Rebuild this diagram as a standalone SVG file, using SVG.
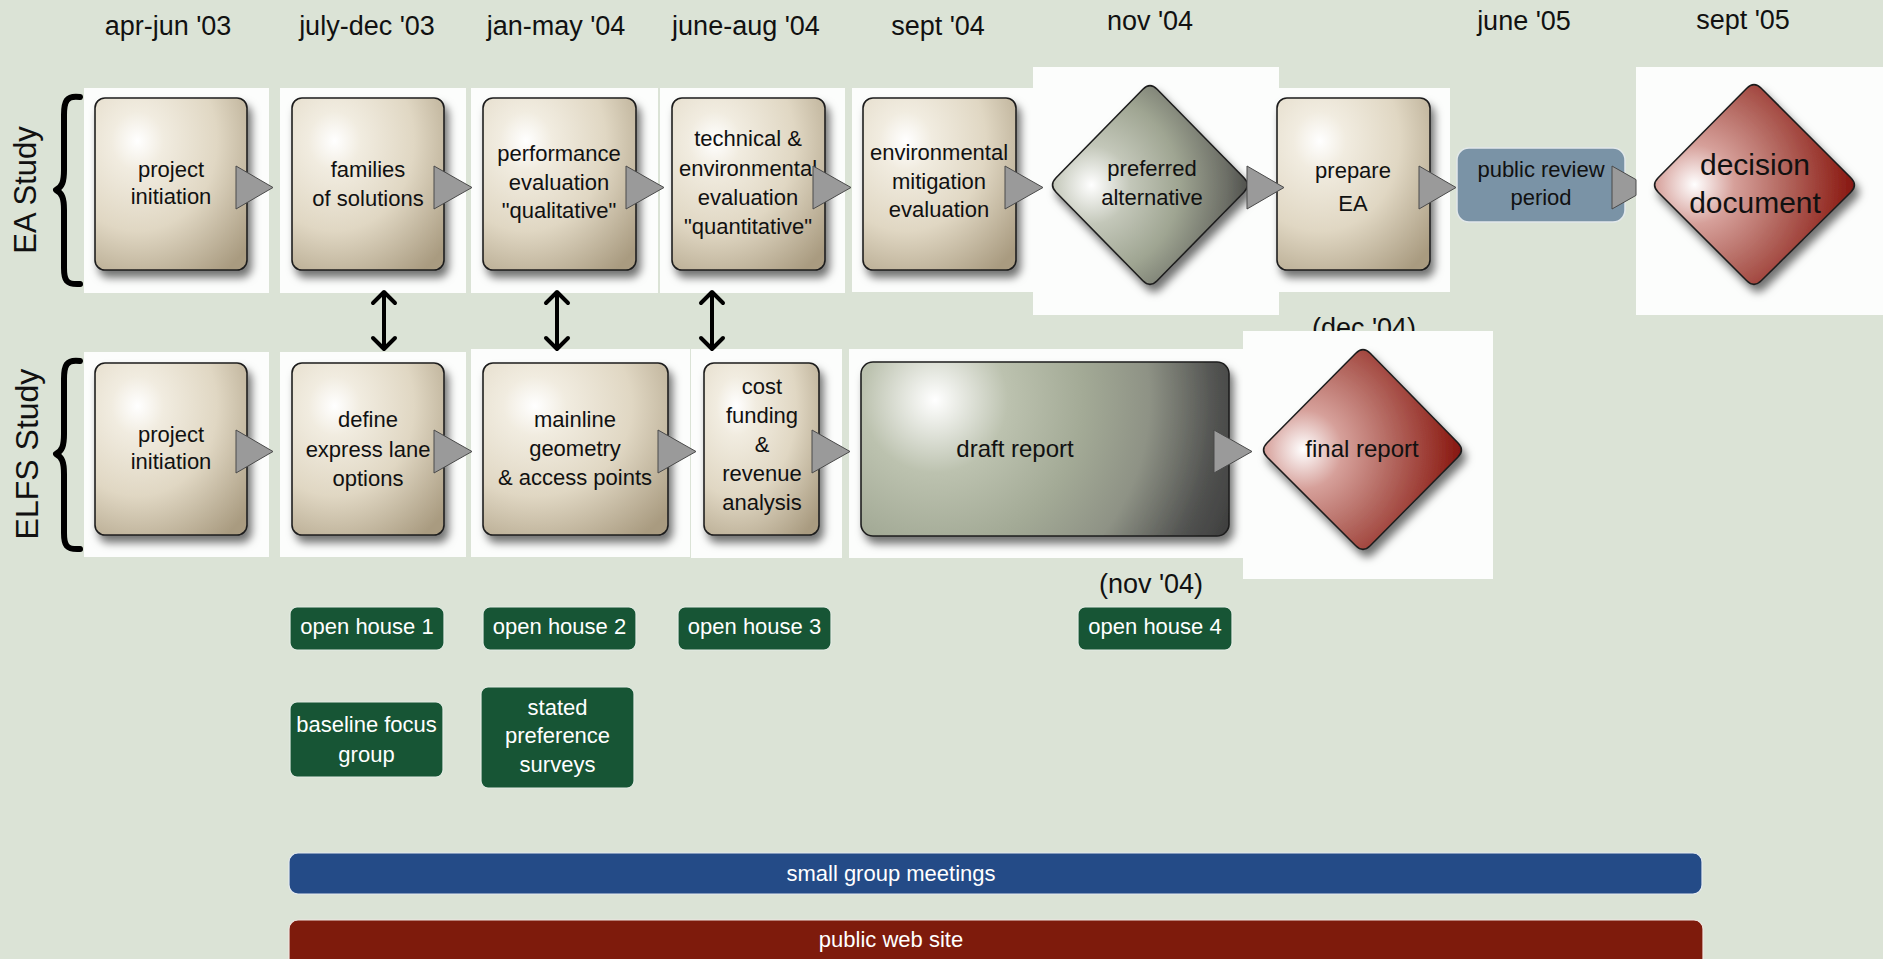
<svg xmlns="http://www.w3.org/2000/svg" width="1883" height="959" viewBox="0 0 1883 959">
<defs>
<style>
text{font-family:"Liberation Sans",Arial,sans-serif;fill:#111}
.t{font-size:27px}
.b{font-size:22px;text-anchor:middle}
.w{fill:#fff}
.panel{fill:#fcfdfc}
.box{fill:url(#beige);stroke:#1e1e1e;stroke-width:1.6;filter:url(#sh)}
.tri{fill:#9a9a9a;stroke:#4a4a4a;stroke-width:1}
.grn{fill:#175535;stroke:#e3ebe3;stroke-width:1.2}
.bi{fill:none;stroke:#000;stroke-width:4;stroke-linecap:round;stroke-linejoin:round}
.brace{fill:none;stroke:#000;stroke-width:6;stroke-linecap:round;stroke-linejoin:round}
</style>
<filter id="sh" x="-15%" y="-15%" width="140%" height="140%">
<feDropShadow dx="4" dy="7" stdDeviation="4" flood-color="#000" flood-opacity="0.55"/>
</filter>
<radialGradient id="beige" cx="0.28" cy="0.25" r="0.95" fx="0.28" fy="0.25">
<stop offset="0" stop-color="#ffffff"/>
<stop offset="0.18" stop-color="#f1ece0"/>
<stop offset="0.55" stop-color="#e0d7c3"/>
<stop offset="1" stop-color="#a99b80"/>
</radialGradient>
<radialGradient id="gray" cx="0.2" cy="0.5" r="0.9" fx="0.2" fy="0.5">
<stop offset="0" stop-color="#ffffff"/>
<stop offset="0.22" stop-color="#c3c7b9"/>
<stop offset="0.5" stop-color="#9fa592"/>
<stop offset="0.78" stop-color="#6b6d65"/>
<stop offset="1" stop-color="#363636"/>
</radialGradient>
<radialGradient id="draft" gradientUnits="userSpaceOnUse" cx="935" cy="400" r="330" fx="935" fy="400">
<stop offset="0" stop-color="#ffffff"/>
<stop offset="0.22" stop-color="#bcc2af"/>
<stop offset="0.45" stop-color="#a3aa96"/>
<stop offset="0.65" stop-color="#8e9285"/>
<stop offset="0.85" stop-color="#525351"/>
<stop offset="1" stop-color="#3a3a3a"/>
</radialGradient>
<radialGradient id="red" cx="0.2" cy="0.5" r="0.9" fx="0.2" fy="0.5">
<stop offset="0" stop-color="#ffffff"/>
<stop offset="0.22" stop-color="#d6a09a"/>
<stop offset="0.5" stop-color="#b3675f"/>
<stop offset="0.8" stop-color="#922820"/>
<stop offset="1" stop-color="#760000"/>
</radialGradient>
<clipPath id="decclip"><rect x="1280" y="300" width="200" height="31"/></clipPath>
</defs>

<rect width="1883" height="959" fill="#dbe3d6"/>

<g id="titles">
<text class="t" x="168" y="35" text-anchor="middle">apr-jun '03</text>
<text class="t" x="367" y="35" text-anchor="middle">july-dec '03</text>
<text class="t" x="556" y="35" text-anchor="middle">jan-may '04</text>
<text class="t" x="746" y="35" text-anchor="middle">june-aug '04</text>
<text class="t" x="938" y="35" text-anchor="middle">sept '04</text>
<text class="t" x="1150" y="30" text-anchor="middle">nov '04</text>
<text class="t" x="1524" y="30" text-anchor="middle">june '05</text>
<text class="t" x="1743" y="29" text-anchor="middle">sept '05</text>
</g>

<g id="lane-labels">
<text transform="translate(36,190) rotate(-90)" text-anchor="middle" font-size="31">EA Study</text>
<path class="brace" d="M80,97 C66,95 64,102 64,115 L64,170 C64,182 62,187 56,190 C62,193 64,198 64,210 L64,268 C64,280 66,285 80,284"/>
<text transform="translate(38,454) rotate(-90)" text-anchor="middle" font-size="32">ELFS Study</text>
<path class="brace" d="M80,361 C66,359 64,366 64,379 L64,434 C64,446 62,451 56,454 C62,457 64,462 64,474 L64,533 C64,545 66,550 80,549"/>
</g>

<text class="t" x="1364" y="337" text-anchor="middle" clip-path="url(#decclip)">(dec '04)</text>

<g id="ea-project-initiation">
<rect class="panel" x="84" y="88" width="185" height="205"/>
<rect class="box" x="95" y="98" width="152" height="172" rx="10"/>
<text class="b" x="171" y="177">project</text>
<text class="b" x="171" y="204">initiation</text>
</g>
<g id="ea-families">
<rect class="panel" x="280" y="88" width="186" height="205"/>
<rect class="box" x="292" y="98" width="152" height="172" rx="10"/>
<text class="b" x="368" y="177">families</text>
<text class="b" x="368" y="206">of solutions</text>
</g>
<g id="ea-performance">
<rect class="panel" x="471" y="88" width="187" height="205"/>
<rect class="box" x="483" y="98" width="153" height="172" rx="10"/>
<text class="b" x="559" y="161">performance</text>
<text class="b" x="559" y="190">evaluation</text>
<text class="b" x="559" y="218">"qualitative"</text>
</g>
<g id="ea-technical">
<rect class="panel" x="660" y="88" width="185" height="205"/>
<rect class="box" x="672" y="98" width="153" height="172" rx="10"/>
<text class="b" x="748" y="146">technical &amp;</text>
<text class="b" x="748" y="176">environmental</text>
<text class="b" x="748" y="205">evaluation</text>
<text class="b" x="748" y="234">"quantitative"</text>
</g>
<g id="ea-mitigation">
<rect class="panel" x="852" y="88" width="181" height="204"/>
<rect class="box" x="863" y="98" width="153" height="172" rx="10"/>
<text class="b" x="939" y="160">environmental</text>
<text class="b" x="939" y="189">mitigation</text>
<text class="b" x="939" y="217">evaluation</text>
</g>
<g id="ea-preferred">
<rect class="panel" x="1033" y="67" width="246" height="248"/>
<path d="M1142.9,89.2 Q1150,82 1157.1,89.2 L1243.9,177.8 Q1251,185 1243.9,192.2 L1157.1,280.8 Q1150,288 1142.9,280.8 L1056.1,192.2 Q1049,185 1056.1,177.8 Z" fill="url(#gray)" stroke="#1e1e1e" stroke-width="1.6" filter="url(#sh)"/>
<text class="b" x="1152" y="176">preferred</text>
<text class="b" x="1152" y="205">alternative</text>
</g>
<g id="ea-prepare">
<rect class="panel" x="1279" y="88" width="171" height="204"/>
<rect class="box" x="1277" y="98" width="153" height="172" rx="10"/>
<text class="b" x="1353" y="178">prepare</text>
<text class="b" x="1353" y="211" font-size="29">EA</text>
</g>
<g id="ea-public-review">
<rect x="1457" y="148" width="168" height="74" rx="12" fill="#7a93a6" stroke="#e2e8ea" stroke-width="1.5"/>
<text class="b" x="1541" y="177">public review</text>
<text class="b" x="1541" y="205">period</text>
</g>
<g id="ea-decision">
<rect class="panel" x="1636" y="67" width="247" height="248"/>
<path d="M1746.8,88.2 Q1754,81 1761.2,88.2 L1850.8,177.8 Q1858,185 1850.8,192.2 L1761.2,280.8 Q1754,288 1746.8,280.8 L1658.2,192.2 Q1651,185 1658.2,177.8 Z" fill="url(#red)" stroke="#1e1e1e" stroke-width="1.6" filter="url(#sh)"/>
<text x="1755" y="175" font-size="30" text-anchor="middle">decision</text>
<text x="1755" y="213" font-size="30" text-anchor="middle">document</text>
</g>

<g id="elfs-project-initiation">
<rect class="panel" x="84" y="352" width="185" height="205"/>
<rect class="box" x="95" y="363" width="152" height="172" rx="10"/>
<text class="b" x="171" y="442">project</text>
<text class="b" x="171" y="469">initiation</text>
</g>
<g id="elfs-define">
<rect class="panel" x="280" y="352" width="186" height="205"/>
<rect class="box" x="292" y="363" width="152" height="172" rx="10"/>
<text class="b" x="368" y="427">define</text>
<text class="b" x="368" y="457">express lane</text>
<text class="b" x="368" y="486">options</text>
</g>
<g id="elfs-mainline">
<rect class="panel" x="471" y="349" width="219" height="208"/>
<rect class="box" x="483" y="363" width="185" height="172" rx="10"/>
<text class="b" x="575" y="427">mainline</text>
<text class="b" x="575" y="456">geometry</text>
<text class="b" x="575" y="485">&amp; access points</text>
</g>
<g id="elfs-cost">
<rect class="panel" x="691" y="349" width="151" height="209"/>
<rect class="box" x="704" y="363" width="115" height="172" rx="10"/>
<text class="b" x="762" y="394">cost</text>
<text class="b" x="762" y="423">funding</text>
<text class="b" x="762" y="452">&amp;</text>
<text class="b" x="762" y="481">revenue</text>
<text class="b" x="762" y="510">analysis</text>
</g>
<g id="elfs-draft">
<rect class="panel" x="849" y="349" width="396" height="209"/>
<rect x="861" y="362" width="368" height="174" rx="12" fill="url(#draft)" stroke="#1e1e1e" stroke-width="1.6" filter="url(#sh)"/>
<text x="1015" y="457" font-size="24" text-anchor="middle">draft report</text>
</g>
<g id="elfs-final">
<rect class="panel" x="1243" y="331" width="250" height="248"/>
<path d="M1355.8,353.2 Q1363,346 1370.2,353.2 L1457.8,442.8 Q1465,450 1457.8,457.2 L1370.2,545.8 Q1363,553 1355.8,545.8 L1267.2,457.2 Q1260,450 1267.2,442.8 Z" fill="url(#red)" stroke="#1e1e1e" stroke-width="1.6" filter="url(#sh)"/>
<text x="1362" y="457" font-size="24" text-anchor="middle">final report</text>
</g>

<g id="connectors">
<polygon class="tri" points="236,166 273,187.5 236,209"/>
<polygon class="tri" points="434,166 472,187.5 434,209"/>
<polygon class="tri" points="626,166 664,187.5 626,209"/>
<polygon class="tri" points="813,166 851,187.5 813,209"/>
<polygon class="tri" points="1005,166 1043,187.5 1005,209"/>
<polygon class="tri" points="1247,166 1284,187.5 1247,209"/>
<polygon class="tri" points="1419,166 1456,187.5 1419,209"/>
<polygon class="tri" points="1612,166 1636,179.6 1636,195.4 1612,209"/>
<polygon class="tri" points="236,430 273,451.5 236,473"/>
<polygon class="tri" points="434,430 472,451.5 434,473"/>
<polygon class="tri" points="658,430 696,451.5 658,473"/>
<polygon class="tri" points="812,430 850,451.5 812,473"/>
<polygon class="tri" points="1214,430 1252,451.5 1214,473"/>
<g class="bi">
<path d="M384,293 V347 M373,303 L384,292 L395,303 M373,338 L384,349 L395,338"/>
<path d="M557,293 V347 M546,303 L557,292 L568,303 M546,338 L557,349 L568,338"/>
<path d="M712,293 V347 M701,303 L712,292 L723,303 M701,338 L712,349 L723,338"/>
</g>
</g>

<text class="t" x="1151" y="593" text-anchor="middle">(nov '04)</text>

<g id="open-house-1">
<rect class="grn" x="290" y="607" width="154" height="43" rx="7"/>
<text class="b w" x="367" y="634">open house 1</text>
</g>
<g id="open-house-2">
<rect class="grn" x="483" y="607" width="153" height="43" rx="7"/>
<text class="b w" x="559.5" y="634">open house 2</text>
</g>
<g id="open-house-3">
<rect class="grn" x="678" y="607" width="153" height="43" rx="7"/>
<text class="b w" x="754.5" y="634">open house 3</text>
</g>
<g id="open-house-4">
<rect class="grn" x="1078" y="607" width="154" height="43" rx="7"/>
<text class="b w" x="1155" y="634">open house 4</text>
</g>
<g id="baseline-focus-group">
<rect class="grn" x="290" y="702" width="153" height="75" rx="7"/>
<text class="b w" x="366.5" y="732">baseline focus</text>
<text class="b w" x="366.5" y="762">group</text>
</g>
<g id="stated-preference-surveys">
<rect class="grn" x="481" y="687" width="153" height="101" rx="7"/>
<text class="b w" x="557.5" y="715">stated</text>
<text class="b w" x="557.5" y="743">preference</text>
<text class="b w" x="557.5" y="772">surveys</text>
</g>
<g id="small-group-meetings">
<rect x="289" y="853" width="1413" height="41" rx="9" fill="#244b87" stroke="#e3e9ef" stroke-width="1.2"/>
<text class="b w" x="891" y="881">small group meetings</text>
</g>
<g id="public-web-site">
<rect x="289" y="920" width="1414" height="52" rx="9" fill="#7e1b0c" stroke="#f0e6e2" stroke-width="1.2"/>
<text class="b w" x="891" y="947">public web site</text>
</g>
</svg>
